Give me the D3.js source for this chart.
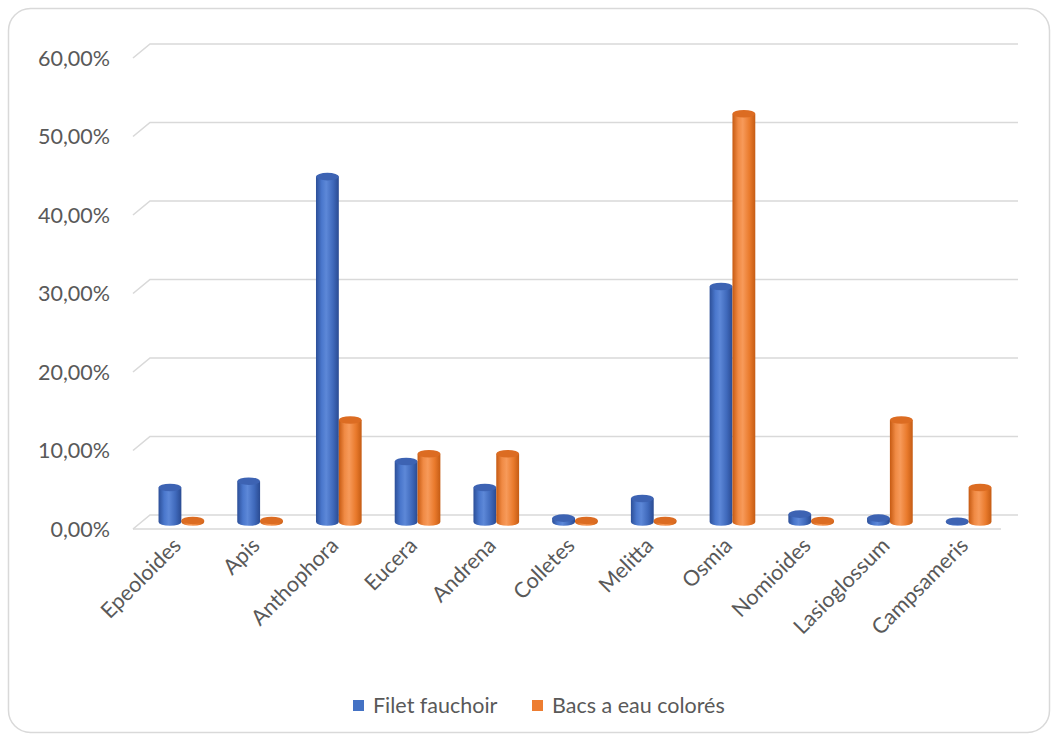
<!DOCTYPE html>
<html>
<head>
<meta charset="utf-8">
<script src="https://cdn.jsdelivr.net/npm/d3@7/dist/d3.min.js"></script>
<style>
  html, body { margin: 0; padding: 0; background: #ffffff; }
  svg { display: block; }
  text { font-family: Lato, "Open Sans", sans-serif; fill: #595959; }
</style>
</head>
<body>
<svg id="chart" width="1057" height="736"></svg>
<script>
// Genres of bees collected, share per sampling method
const categories = ["Epeoloides", "Apis", "Anthophora", "Eucera", "Andrena", "Colletes",
                    "Melitta", "Osmia", "Nomioides", "Lasioglossum", "Campsameris"];
const seriesNames = ["Filet fauchoir", "Bacs a eau colorés"];
const filetFauchoir = [4.4, 5.2, 44.0, 7.7, 4.4, 0.5, 3.0, 30.0, 1.0, 0.5, 0.1];
const bacsAEau      = [0.2, 0.2, 13.0, 8.7, 8.7, 0.2, 0.2, 52.0, 0.2, 13.0, 4.4];
const yTicks = [0, 10, 20, 30, 40, 50, 60];
const tickLabels = ["0,00%", "10,00%", "20,00%", "30,00%", "40,00%", "50,00%", "60,00%"];

const svg = d3.select("#chart");
const colors = { base: ["#4472c4", "#ed7d31"] };

// Outer frame
svg.append("rect")
  .attr("x", 8.5).attr("y", 8.5).attr("width", 1041).attr("height", 724)
  .attr("rx", 22).attr("ry", 22)
  .attr("fill", "#ffffff").attr("stroke", "#d9d9d9").attr("stroke-width", 1.5);

// Depth offsets of the 3-D box (back wall vs front edge)
const depthX = 17, depthY = 14;
const backLeft = 150, backRight = 1018;

// Value scale on the back wall, and on the mid-depth plane where the columns stand
const yBack = d3.scaleLinear().domain([0, 60]).range([515, 44]);
const barShift = 7;
const yBar = v => yBack(v) + barShift;

// Gridlines: left wall diagonal + back wall line
const grid = svg.append("g");
yTicks.forEach(t => {
  const y = yBack(t);
  grid.append("path")
    .attr("d", `M${backLeft - depthX},${y + depthY} L${backLeft},${y} L${backRight},${y}`)
    .attr("fill", "none").attr("stroke", "#d9d9d9").attr("stroke-width", 1.6);
});
// Floor front edge
grid.append("path")
  .attr("d", `M${backLeft - depthX},${yBack(0) + depthY} L${backRight - depthX},${yBack(0) + depthY}`)
  .attr("fill", "none").attr("stroke", "#d9d9d9").attr("stroke-width", 1.6);

// Y-axis labels
svg.append("g").selectAll("text").data(yTicks).join("text")
  .attr("x", 110).attr("y", d => yBack(d) + depthY)
  .attr("dy", "0.35em")
  .attr("text-anchor", "end")
  .attr("font-size", 21.5)
  .text((d, i) => tickLabels[i]);

// Category scale
const x0 = d3.scaleBand().domain(categories).range([142, 1008])
  .paddingInner(0.42).paddingOuter(0.21);
const x1 = d3.scaleBand().domain(seriesNames).range([0, x0.bandwidth()]).padding(0);

// Cylinder gradients
const defs = svg.append("defs");
const grads = [
  ["#2c4f98", "#4a77cc", "#5d88d8", "#3f69bb", "#2a4b92"],
  ["#c65a12", "#f08a44", "#f79a5a", "#e97a2c", "#c55c14"]
];
grads.forEach((stops, i) => {
  const g = defs.append("linearGradient").attr("id", "cyl" + i)
    .attr("x1", "0%").attr("x2", "100%").attr("y1", "0%").attr("y2", "0%");
  [0, 0.25, 0.45, 0.75, 1].forEach((o, k) => {
    g.append("stop").attr("offset", o).attr("stop-color", stops[k]);
  });
});
const capColor = ["#3d63b3", "#dc6c22"];

const data = categories.map((c, i) => ({
  cat: c,
  vals: [filetFauchoir[i], bacsAEau[i]]
}));

const bars = svg.append("g");
data.forEach(d => {
  seriesNames.forEach((s, si) => {
    const v = d.vals[si];
    const w = x1.bandwidth();
    const left = x0(d.cat) + x1(s);
    const cx = left + w / 2;
    const rx = w / 2;
    const ry = 3.8;
    const yTop = yBar(v);
    const yBase = yBar(0);
    const g = bars.append("g");
    // body with rounded bottom
    g.append("path")
      .attr("d", `M${left},${yTop} L${left},${yBase} A${rx},${ry} 0 0 0 ${left + w},${yBase} L${left + w},${yTop} Z`)
      .attr("fill", `url(#cyl${si})`);
    // top cap
    g.append("ellipse")
      .attr("cx", cx).attr("cy", yTop).attr("rx", rx).attr("ry", ry)
      .attr("fill", capColor[si]);
  });
});

// Category labels, rotated
svg.append("g").selectAll("text").data(categories).join("text")
  .attr("transform", d => `translate(${x0(d) + x0.bandwidth() / 2 + 1},${547}) rotate(-45)`)
  .attr("text-anchor", "end")
  .attr("font-size", 21.5)
  .text(d => d);

// Legend
const legend = svg.append("g");
const legendPos = [353, 532];
seriesNames.forEach((s, i) => {
  legend.append("rect")
    .attr("x", legendPos[i]).attr("y", 700).attr("width", 11).attr("height", 11)
    .attr("fill", colors.base[i]);
  legend.append("text")
    .attr("x", legendPos[i] + 20).attr("y", 713)
    .attr("font-size", 21.5)
    .text(s);
});
</script>
</body>
</html>
